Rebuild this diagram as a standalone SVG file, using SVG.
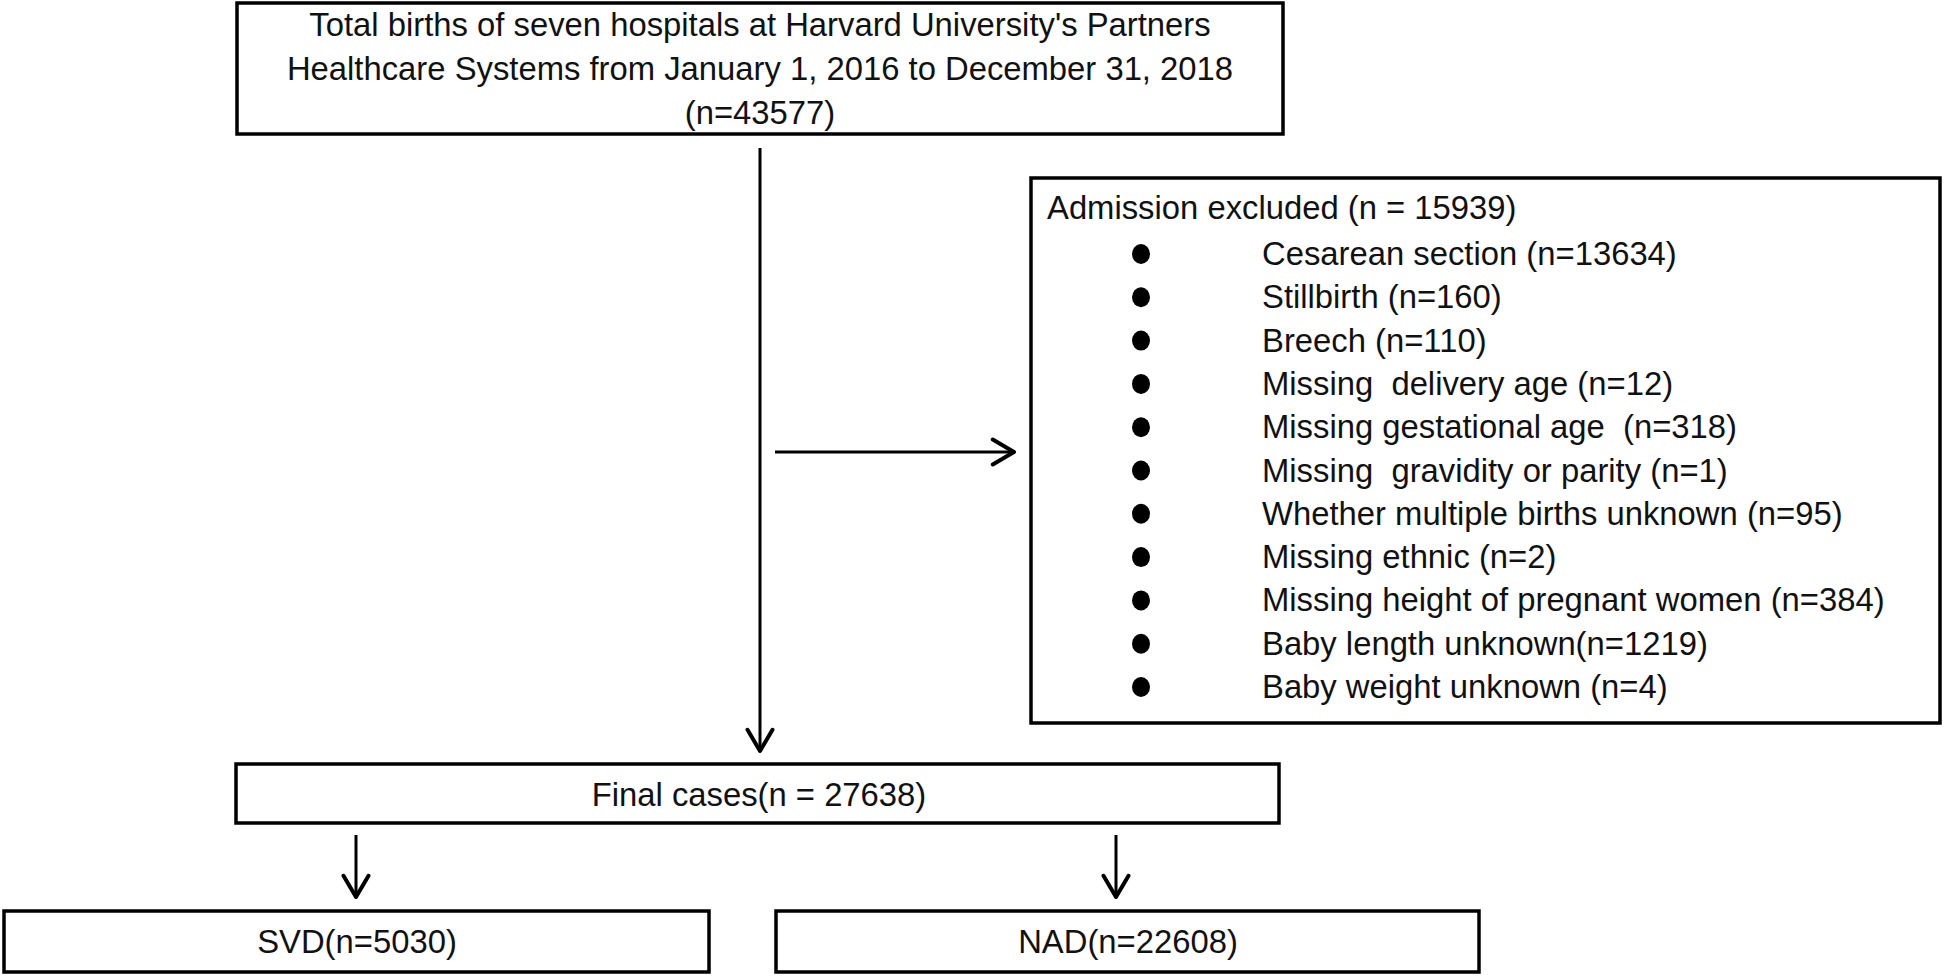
<svg xmlns="http://www.w3.org/2000/svg" width="1944" height="976" viewBox="0 0 1944 976">
<style>
.box{fill:#fff;stroke:#000;stroke-width:3.5}
.t{font-family:"Liberation Sans",Arial,sans-serif;font-size:32.8px;fill:#111}
.c{text-anchor:middle}
.ln{stroke:#000;stroke-width:3;fill:none}
.dot{fill:#000}
</style>
<defs>
<marker id="ah" markerUnits="userSpaceOnUse" markerWidth="30" markerHeight="30" viewBox="-20 -12 24 24" refX="0" refY="0" orient="auto">
<polyline points="-17,-10 0,0 -17,10" fill="none" stroke="#000" stroke-width="3.2" stroke-linecap="round" stroke-linejoin="round"/>
</marker>
</defs>
<rect width="1944" height="976" fill="#fff"/>
<g id="connectors">
<line class="ln" x1="760" y1="148" x2="760" y2="751" marker-end="url(#ah)"/>
<line class="ln" x1="775" y1="452" x2="1014" y2="452" marker-end="url(#ah)"/>
<line class="ln" x1="356" y1="835" x2="356" y2="897" marker-end="url(#ah)"/>
<line class="ln" x1="1116" y1="835" x2="1116" y2="897" marker-end="url(#ah)"/>
</g>
<g id="total">
<rect class="box" x="237" y="3" width="1046" height="131"/>
<text class="t c" x="760" y="36">Total births of seven hospitals at Harvard University's Partners</text>
<text class="t c" x="760" y="80">Healthcare Systems from January 1, 2016 to December 31, 2018</text>
<text class="t c" x="760" y="124">(n=43577)</text>
</g>
<g id="excluded">
<rect class="box" x="1031" y="178" width="909" height="545"/>
<text class="t" x="1047" y="219">Admission excluded (n = 15939)</text>
<g class="dot">
<ellipse cx="1141" cy="254" rx="9" ry="10"/>
<ellipse cx="1141" cy="297.3" rx="9" ry="10"/>
<ellipse cx="1141" cy="340.6" rx="9" ry="10"/>
<ellipse cx="1141" cy="383.9" rx="9" ry="10"/>
<ellipse cx="1141" cy="427.2" rx="9" ry="10"/>
<ellipse cx="1141" cy="470.5" rx="9" ry="10"/>
<ellipse cx="1141" cy="513.8" rx="9" ry="10"/>
<ellipse cx="1141" cy="557.1" rx="9" ry="10"/>
<ellipse cx="1141" cy="600.4" rx="9" ry="10"/>
<ellipse cx="1141" cy="643.7" rx="9" ry="10"/>
<ellipse cx="1141" cy="687" rx="9" ry="10"/>
</g>
<text class="t" x="1262" y="265">Cesarean section (n=13634)</text>
<text class="t" x="1262" y="308.3">Stillbirth (n=160)</text>
<text class="t" x="1262" y="351.6">Breech (n=110)</text>
<text class="t" x="1262" y="394.9" xml:space="preserve">Missing  delivery age (n=12)</text>
<text class="t" x="1262" y="438.2" xml:space="preserve">Missing gestational age  (n=318)</text>
<text class="t" x="1262" y="481.5" xml:space="preserve">Missing  gravidity or parity (n=1)</text>
<text class="t" x="1262" y="524.8">Whether multiple births unknown (n=95)</text>
<text class="t" x="1262" y="568.1">Missing ethnic (n=2)</text>
<text class="t" x="1262" y="611.4">Missing height of pregnant women (n=384)</text>
<text class="t" x="1262" y="654.7">Baby length unknown(n=1219)</text>
<text class="t" x="1262" y="698">Baby weight unknown (n=4)</text>
</g>
<g id="final">
<rect class="box" x="236" y="764" width="1043" height="59"/>
<text class="t c" x="759" y="806">Final cases(n = 27638)</text>
</g>
<g id="svd">
<rect class="box" x="4" y="911" width="705" height="61"/>
<text class="t c" x="357" y="953">SVD(n=5030)</text>
</g>
<g id="nad">
<rect class="box" x="776" y="911" width="703" height="61"/>
<text class="t c" x="1128" y="953">NAD(n=22608)</text>
</g>
</svg>
